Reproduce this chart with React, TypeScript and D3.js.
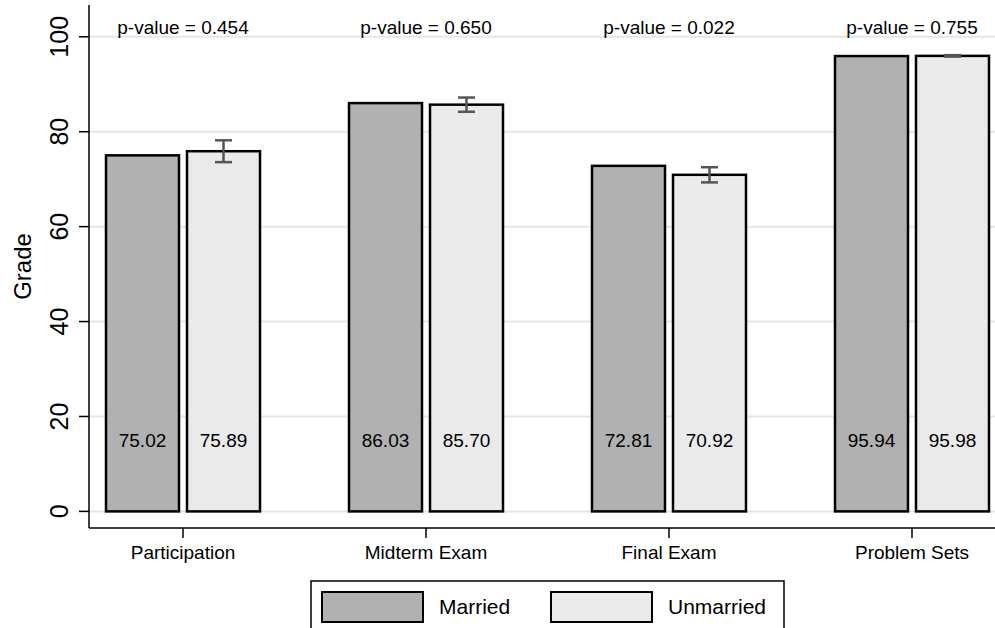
import React from "react";
import * as d3 from "d3";

// Mean grades by course component, married vs unmarried students
const categories = ["Participation", "Midterm Exam", "Final Exam", "Problem Sets"];
const marriedMeans = [75.02, 86.03, 72.81, 95.94];
const unmarriedMeans = [75.89, 85.7, 70.92, 95.98];
const unmarriedErr = [2.3, 1.5, 1.6, 0.15];
const pValues = ["0.454", "0.650", "0.022", "0.755"];
const yTicks = [0, 20, 40, 60, 80, 100];
const seriesNames = ["Married", "Unmarried"];
const seriesColors = ["#b1b1b1", "#eaeaea"];

const W = 995;
const H = 628;
const FONT = "'Liberation Sans', Arial, Helvetica, sans-serif";

export default function App() {
  const axisX = 89;
  const axisY = 528;
  const yMin = -3.5;
  const yMax = 106.7;
  const y = d3.scaleLinear().domain([yMin, yMax]).range([axisY, 5]);
  const x = d3.scalePoint<string>().domain(categories).range([183, 912]);
  const barW = 73;
  const gap = 8;
  const offsets = [-(gap / 2 + barW / 2), gap / 2 + barW / 2];
  const series = [marriedMeans, unmarriedMeans];
  const plotMidY = (y(yMin) + y(yMax)) / 2;

  return (
    <svg
      width={W}
      height={H}
      style={{ position: "absolute", left: 0, top: 0, background: "#fff" }}
      fontFamily={FONT}
    >
      {/* grid lines */}
      {yTicks.map((t) => (
        <line
          key={"g" + t}
          x1={axisX}
          x2={W}
          y1={y(t)}
          y2={y(t)}
          stroke="#e6e6e6"
          strokeWidth={2}
        />
      ))}

      {/* y axis */}
      <line x1={axisX} x2={axisX} y1={y(yMin)} y2={y(yMax)} stroke="#000" strokeWidth={1.5} />
      {yTicks.map((t) => (
        <g key={"t" + t}>
          <line x1={axisX - 10} x2={axisX} y1={y(t)} y2={y(t)} stroke="#000" strokeWidth={1.5} />
          <text
            transform={`translate(68,${y(t)}) rotate(-90)`}
            textAnchor="middle"
            fontSize={25}
            fill="#000"
          >
            {t}
          </text>
        </g>
      ))}
      <text
        transform={`translate(31,${plotMidY}) rotate(-90)`}
        textAnchor="middle"
        fontSize={24}
        fill="#000"
      >
        Grade
      </text>

      {/* x axis */}
      <line x1={axisX} x2={W} y1={axisY} y2={axisY} stroke="#000" strokeWidth={1.5} />
      {categories.map((c) => (
        <g key={"x" + c}>
          <line x1={x(c)!} x2={x(c)!} y1={axisY} y2={axisY + 10} stroke="#000" strokeWidth={1.5} />
          <text x={x(c)!} y={559} textAnchor="middle" fontSize={19} fill="#000">
            {c}
          </text>
        </g>
      ))}

      {/* bars */}
      {series.map((vals, si) =>
        vals.map((v, i) => {
          const cx = x(categories[i])! + offsets[si];
          return (
            <g key={`b${si}-${i}`}>
              <rect
                x={cx - barW / 2}
                y={y(v)}
                width={barW}
                height={y(0) - y(v)}
                fill={seriesColors[si]}
                stroke="#000"
                strokeWidth={2.5}
              />
              <text x={cx} y={y(0) - 64} textAnchor="middle" fontSize={19} fill="#000">
                {v.toFixed(2)}
              </text>
            </g>
          );
        })
      )}

      {/* error bars on unmarried means */}
      {unmarriedMeans.map((v, i) => {
        const cx = x(categories[i])! + offsets[1];
        const top = y(v + unmarriedErr[i]);
        const bot = y(v - unmarriedErr[i]);
        return (
          <g key={"e" + i} stroke="#555" strokeWidth={2.5}>
            <line x1={cx} x2={cx} y1={top} y2={bot} />
            <line x1={cx - 8.5} x2={cx + 8.5} y1={top} y2={top} />
            <line x1={cx - 8.5} x2={cx + 8.5} y1={bot} y2={bot} />
          </g>
        );
      })}

      {/* p-values */}
      {pValues.map((p, i) => (
        <text key={"p" + i} x={x(categories[i])!} y={34} textAnchor="middle" fontSize={19} fill="#000">
          {`p-value = ${p}`}
        </text>
      ))}

      {/* legend */}
      <rect x={311} y={581} width={473} height={60} fill="#fff" stroke="#000" strokeWidth={1.5} />
      {seriesNames.map((name, i) => {
        const sx = i === 0 ? 322 : 551;
        return (
          <g key={"l" + name}>
            <rect x={sx} y={592} width={101} height={30} fill={seriesColors[i]} stroke="#000" strokeWidth={2} />
            <text x={sx + 117} y={614} fontSize={21} fill="#000">
              {name}
            </text>
          </g>
        );
      })}
    </svg>
  );
}
